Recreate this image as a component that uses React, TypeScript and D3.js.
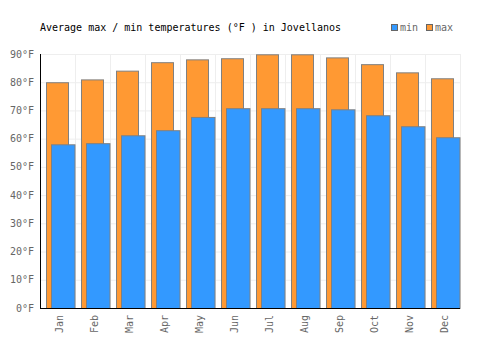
import React from "react";
import * as d3 from "d3";

const months = ["Jan", "Feb", "Mar", "Apr", "May", "Jun", "Jul", "Aug", "Sep", "Oct", "Nov", "Dec"];
const maxTemps = [80, 81, 84.1, 87.1, 88.1, 88.5, 89.9, 89.9, 88.8, 86.4, 83.5, 81.4];
const minTemps = [58, 58.4, 61.2, 63, 67.7, 70.8, 70.8, 70.8, 70.4, 68.3, 64.4, 60.5];
const yTicks = [0, 10, 20, 30, 40, 50, 60, 70, 80, 90];
const title = "Average max / min temperatures (°F ) in Jovellanos";

const W = 500, H = 350;
const left = 40, right = 460, top = 54, bottom = 308;
const font = "'DejaVu Sans Mono', monospace";

export default function App() {
  const x = d3.scaleBand<string>().domain(months).range([left, right]).padding(0);
  const y = d3.scaleLinear().domain([0, 90]).range([bottom, top]);
  const bw = x.bandwidth();
  return (
    <svg width={W} height={H} style={{ position: "absolute", left: 0, top: 0 }}>
      <rect x={0} y={0} width={W} height={H} fill="#fff" />
      {yTicks.map((t) => (
        <line key={"gy" + t} x1={left} x2={right} y1={y(t) + 0.5} y2={y(t) + 0.5} stroke="#eeeeee" />
      ))}
      {months.map((m, i) => (
        <line key={"gx" + m} x1={(x(m) as number) + bw + 0.5} x2={(x(m) as number) + bw + 0.5} y1={top} y2={bottom} stroke="#eeeeee" />
      ))}
      {months.map((m, i) => {
        const x0 = x(m) as number;
        return (
          <g key={"b" + m}>
            <rect x={x0 + 6.5} y={y(maxTemps[i]) + 0.5} width={22} height={bottom - y(maxTemps[i])} fill="#ff9933" stroke="#808080" strokeWidth={1} />
            <rect x={x0 + 11.5} y={y(minTemps[i]) + 0.5} width={23.5} height={bottom - y(minTemps[i])} fill="#3399ff" stroke="#808080" strokeWidth={1} />
          </g>
        );
      })}
      <line x1={left + 0.5} x2={left + 0.5} y1={top} y2={bottom + 1} stroke="#000" />
      <line x1={left} x2={right} y1={bottom + 0.5} y2={bottom + 0.5} stroke="#000" />
      {yTicks.map((t) => (
        <text key={"ty" + t} x={34} y={y(t)} dy="0.35em" textAnchor="end" fontFamily={font} fontSize={10} fill="#666">
          {t + "°F"}
        </text>
      ))}
      {months.map((m) => {
        const cx = (x(m) as number) + bw / 2 + 2;
        return (
          <text key={"tx" + m} transform={`translate(${cx},315) rotate(-90)`} textAnchor="end" dy="0.35em" fontFamily={font} fontSize={10} fill="#666">
            {m}
          </text>
        );
      })}
      <text x={40} y={31} fontFamily={font} fontSize={10} fill="#000">{title}</text>
      <rect x={391.5} y={24.5} width={6} height={6} fill="#3399ff" stroke="#666" />
      <text x={400} y={31} fontFamily={font} fontSize={10} fill="#666">min</text>
      <rect x={426.5} y={24.5} width={6} height={6} fill="#ff9933" stroke="#666" />
      <text x={435} y={31} fontFamily={font} fontSize={10} fill="#666">max</text>
    </svg>
  );
}
